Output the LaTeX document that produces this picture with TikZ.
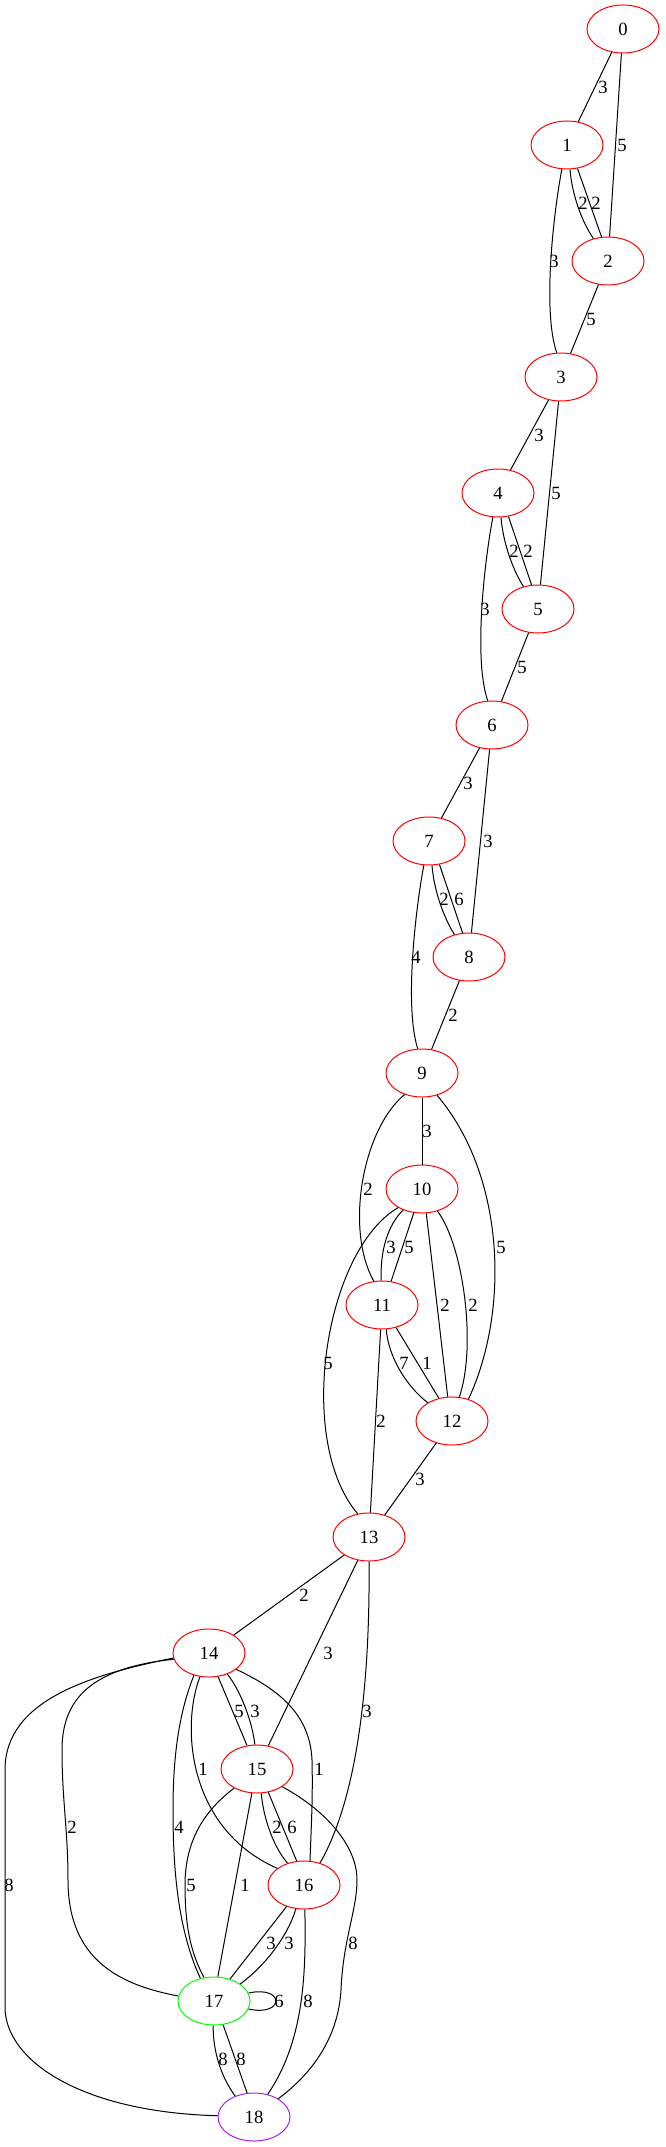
\documentclass[tikz,border=0pt]{standalone}
\usepackage{fontspec}
\setmainfont{Liberation Serif}
\usetikzlibrary{shapes.geometric}

\definecolor{gvred}{HTML}{FF0000}
\definecolor{gvgreen}{HTML}{00FF00}
\definecolor{gvpurple}{HTML}{A020F0}

\begin{document}
\begin{tikzpicture}[x=0.75pt, y=-0.75pt, line width=0.75pt,
    vtx/.style={ellipse, draw=gvred, minimum width=54pt, minimum height=36pt,
        inner sep=0pt, font=\fontsize{14}{16}\selectfont},
    wt/.style={inner sep=0pt, font=\fontsize{14}{16}\selectfont}]

    \useasboundingbox (0,0) rectangle (665,2147);

    % vertices, one rank every 116 px
    \foreach \i/\x in {0/623,1/567,2/608,3/561,4/498,5/538,6/492,7/429,8/469,
                       9/422,10/422,11/382,12/452,13/369,14/209,15/257,16/304}
        \node[vtx] (n\i) at (\x,{29+116*\i}) {\i};
    \node[vtx, draw=gvgreen] (n17) at (214,2001) {17};
    \node[vtx, draw=gvpurple] (n18) at (254,2117) {18};

    % ranks 0 to 3
    \draw (n0) -- (n1);
    \draw (n0) -- (n2);
    \draw (n1.-83) .. controls (572,195) and (582,222) .. (n2.123);
    \draw (n1.-66) -- (n2.105);
    \draw (n1.-102) .. controls (554,210) and (542,310) .. (n3.100);
    \draw (n2) -- (n3);
    % ranks 3 to 6
    \draw (n3) -- (n4);
    \draw (n3) -- (n5);
    \draw (n4.-83) .. controls (503,543) and (513,570) .. (n5.123);
    \draw (n4.-66) -- (n5.105);
    \draw (n4.-102) .. controls (485,558) and (473,658) .. (n6.100);
    \draw (n5) -- (n6);
    % ranks 6 to 9
    \draw (n6) -- (n7);
    \draw (n6) -- (n8);
    \draw (n7.-83) .. controls (434,891) and (444,918) .. (n8.123);
    \draw (n7.-66) -- (n8.105);
    \draw (n7.-102) .. controls (416,906) and (404,1006) .. (n9.100);
    \draw (n8) -- (n9);
    % ranks 9 to 13
    \draw (n9) -- (n10);
    \draw (n9.-129) .. controls (362,1130) and (345,1230) .. (n11.109);
    \draw (n9.-56) .. controls (505,1175) and (510,1310) .. (n12.53);
    \draw (n10.-132) .. controls (388,1225) and (380,1250) .. (n11.92);
    \draw (n10.-109) -- (n11.69);
    \draw (n10.-80) -- (n12.100);
    \draw (n10.-55) .. controls (463,1245) and (477,1345) .. (n12.73);
    \draw (n10.-142) .. controls (325,1250) and (295,1440) .. (n13.116);
    \draw (n11.-80) .. controls (388,1355) and (405,1385) .. (n12.143);
    \draw (n11.-58) -- (n12.120);
    \draw (n11) -- (n13);
    \draw (n12) -- (n13);
    % from 13 down
    \draw (n13) -- (n14);
    \draw (n13) -- (n15);
    \draw (n13.-90) .. controls (370,1660) and (362,1790) .. (n16.54);
    % from 14 down
    \draw (n14.-172) .. controls (90,1675) and (5,1700) .. (5,1770) -- (5,2007)
        .. controls (5,2060) and (80,2112) .. (n18.178);
    \draw (n14.-170) .. controls (90,1668) and (62,1700) .. (62,1750)
        .. controls (62,1800) and (68,1830) .. (68,1880)
        .. controls (68,1960) and (120,1985) .. (n17.172);
    \draw (n14.-124) .. controls (178,1715) and (173,1760) .. (173,1810)
        .. controls (173,1870) and (178,1930) .. (n17.121);
    \draw (n14.-111) .. controls (180,1730) and (190,1830) .. (n16.148);
    \draw (n14.-69) -- (n15.113);
    \draw (n14.-49) .. controls (240,1690) and (252,1720) .. (n15.95);
    \draw (n14.-31) .. controls (280,1690) and (310,1715) .. (312,1760)
        .. controls (313,1800) and (311,1830) .. (n16.76);
    % from 15 down
    \draw (n15.-140) .. controls (205,1810) and (185,1840) .. (185,1885)
        .. controls (185,1930) and (192,1955) .. (n17.113);
    \draw (n15.-102) -- (n17.81);
    \draw (n15.-80) .. controls (263,1815) and (272,1845) .. (n16.127);
    \draw (n15.-64) -- (n16.107);
    \draw (n15.-35) .. controls (325,1810) and (357,1845) .. (357,1880)
        .. controls (357,1910) and (343,1940) .. (341,1990)
        .. controls (338,2040) and (310,2075) .. (n18.37);
    % from 16 down
    \draw (n16.-129) -- (n17.54);
    \draw (n16.-109) .. controls (290,1930) and (270,1962) .. (n17.33);
    \draw (n16.-88) .. controls (306,1970) and (305,2040) .. (n18.59);
    % 17: loop and edges to 18
    \draw (n17.13) .. controls (285,1985) and (285,2017) .. (n17.-13);
    \draw (n17.-92) .. controls (213,2050) and (220,2075) .. (n18.132);
    \draw (n17.-69) -- (n18.106);

    % edge weights
    \foreach \t/\x/\y [count=\k] in {3/603/87, 5/622/145, 2/583/203, 2/596/203,
            3/554/261, 5/591/319, 3/539/435, 5/556/493, 2/514/551, 2/528/551,
            3/485/609, 5/522/667, 3/468/783, 3/488/841, 2/444/899, 6/459/899,
            4/416/957, 2/453/1015, 3/427/1131, 2/368/1189, 5/501/1247,
            3/391/1247, 5/409/1247, 2/445/1305, 2/473/1305, 5/328/1363,
            7/404/1363, 1/427/1363, 2/381/1421, 3/420/1479, 2/304/1595,
            3/328/1653, 3/367/1711, 8/9/1885, 2/72/1827, 4/179/1827,
            1/203/1769, 5/239/1711, 3/255/1711, 1/319/1769, 5/191/1885,
            1/245/1885, 2/277/1827, 6/292/1827, 8/353/1943, 3/271/1943,
            3/289/1943, 8/308/2001, 6/279/2001, 8/223/2059, 8/241/2059}
        \node[wt] (w\k) at (\x,\y) {\t};

\end{tikzpicture}
\end{document}
